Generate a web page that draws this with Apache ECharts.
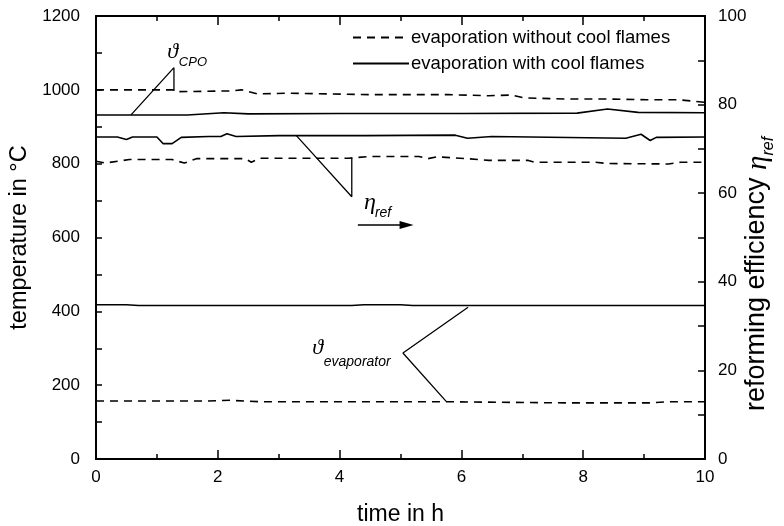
<!DOCTYPE html>
<html>
<head>
<meta charset="utf-8">
<script src="https://cdn.jsdelivr.net/npm/echarts@6/dist/echarts.min.js"></script>
<style>html,body{margin:0;padding:0;background:#fff}#c{width:784px;height:526px}</style>
</head>
<body>
<div id="c"></div>
<script>
// ---- data (time in h, temperature in °C, efficiency in %) ----
const xTicks = [0, 2, 4, 6, 8, 10];
const legendNames = ['evaporation without cool flames', 'evaporation with cool flames'];

const tCpoWithout = [0, 1.27, 1.31, 2.22, 2.39, 2.65, 3.17, 3.82, 4.48, 5.78, 6.44, 6.83, 7.03, 7.75, 8.4, 9.05, 9.58, 10];
const cpoWithout  = [1000, 1000, 995, 997, 1000, 989, 991, 989, 987, 987, 984, 986, 978, 975, 975, 973, 973, 966];

const tCpoWith = [0, 1.5, 2.1, 2.5, 4, 6, 7.9, 8.4, 8.9, 10];
const cpoWith  = [932, 932, 938, 935, 936, 936, 937, 948, 939, 938];

const tEtaWith = [0, 0.35, 0.5, 0.6, 1.0, 1.1, 1.25, 1.4, 1.85, 2.05, 2.15, 2.3, 3, 4.4, 5.9, 6.1, 6.5, 8.7, 8.95, 9.1, 9.2, 10];
const etaWith  = [72.7, 72.7, 72.1, 72.7, 72.7, 71.2, 71.2, 72.6, 72.8, 72.8, 73.4, 72.8, 73.0, 73.0, 73.1, 72.4, 72.8, 72.4, 73.3, 71.9, 72.6, 72.7];

const tEtaWithout = [0, 0.15, 0.55, 1.25, 1.45, 1.65, 2.45, 2.55, 2.7, 4.15, 4.5, 5.3, 5.45, 5.6, 6.1, 6.45, 7.1, 7.2, 8.2, 8.4, 9.4, 9.6, 10];
const etaWithout  = [67.2, 66.8, 67.6, 67.6, 66.8, 67.8, 67.8, 67.0, 67.9, 67.9, 68.3, 68.3, 67.8, 68.2, 67.8, 67.4, 67.4, 67.0, 67.0, 66.7, 66.6, 67.0, 67.0];

const tEvapWith = [0, 0.5, 0.7, 4.2, 4.4, 5.0, 5.2, 10];
const evapWith  = [418, 418, 416, 416, 418, 418, 416, 416];

const tEvapWithout = [0, 1.8, 2.2, 2.7, 5.8, 7.7, 9.1, 9.4, 10];
const evapWithout  = [157, 157, 159, 155, 155, 152, 152, 155, 155];

// ---- annotation geometry (data coordinates) ----
const cpoLeader  = [[1.28, 997], [1.28, 1060], [0.575, 932]];
const etaLeader  = [[4.2, 67.9], [4.2, 59.2], [3.29, 73.0]];   // right axis (%)
const evapLeader = [[6.11, 411], [5.04, 287], [5.75, 156]];
const etaArrow   = [[4.3, 634], [5.1, 634]];

const pairs = (t, v) => t.map((x, i) => [x, v[i]]);
const FONT = "'Liberation Sans', Arial, sans-serif";
const SERIF = "'Liberation Serif', 'DejaVu Serif', serif";
const dashed = { color: '#000', width: 1.6, type: [8, 6] };
const solid  = { color: '#000', width: 1.6, type: 'solid' };

function dataSeries(name, data, ls, yIdx) {
  return { name, type: 'line', data, yAxisIndex: yIdx, symbol: 'none', showSymbol: false,
    lineStyle: ls, itemStyle: { color: '#000' }, animation: false, z: 3 };
}
function leader(data, yIdx, extra) {
  return Object.assign({ type: 'line', data, yAxisIndex: yIdx, symbol: 'none', silent: true,
    lineStyle: { color: '#000', width: 1.3 }, animation: false, z: 4 }, extra || {});
}

const axisLine = { show: true, onZero: false, lineStyle: { color: '#000', width: 2 } };
const plainNum = v => String(v);

const chart = echarts.init(document.getElementById('c'), null, { renderer: 'canvas' });
const option = {
  backgroundColor: '#fff',
  animation: false,
  grid: { left: 96, right: 79, top: 16, bottom: 67, containLabel: false, outerBoundsMode: 'none' },
  legend: {
    data: legendNames, orient: 'vertical', left: 347, top: 23, itemWidth: 56, itemHeight: 16,
    itemGap: 7, selectedMode: false,
    itemStyle: { color: 'rgba(0,0,0,0)', borderWidth: 0, opacity: 0 },
    textStyle: { fontFamily: FONT, fontSize: 18.5, color: '#000', padding: [0, 0, 0, -3] }
  },
  xAxis: [
    { type: 'value', min: 0, max: 10, interval: 2, position: 'bottom',
      axisLine, splitLine: { show: false },
      axisTick: { show: true, inside: true, length: 9, lineStyle: { color: '#000', width: 1.5 } },
      minorTick: { show: true, splitNumber: 2, length: 5, lineStyle: { color: '#000', width: 1.5 } },
      axisLabel: { fontFamily: FONT, fontSize: 17, color: '#000', margin: 10, formatter: plainNum },
      name: 'time in h', nameLocation: 'middle', nameGap: 44,
      nameTextStyle: { fontFamily: FONT, fontSize: 23, color: '#000' } },
    { type: 'value', min: 0, max: 10, interval: 2, position: 'top',
      axisLine, splitLine: { show: false },
      axisTick: { show: true, inside: true, length: 9, lineStyle: { color: '#000', width: 1.5 } },
      minorTick: { show: true, splitNumber: 2, length: 5, lineStyle: { color: '#000', width: 1.5 } },
      axisLabel: { show: false } }
  ],
  yAxis: [
    { type: 'value', min: 0, max: 1200, interval: 200, position: 'left',
      axisLine, splitLine: { show: false },
      axisTick: { show: true, inside: true, length: 6, lineStyle: { color: '#000', width: 1.5 } },
      minorTick: { show: true, splitNumber: 2, length: 6, lineStyle: { color: '#000', width: 1.5 } },
      axisLabel: { fontFamily: FONT, fontSize: 17, color: '#000', margin: 16, formatter: plainNum },
      name: 'temperature in °C', nameLocation: 'middle', nameGap: 49,
      nameTextStyle: { fontFamily: FONT, fontSize: 23.5, color: '#000' } },
    { type: 'value', min: 0, max: 100, interval: 20, position: 'right',
      axisLine, splitLine: { show: false },
      axisTick: { show: true, inside: true, length: 7, lineStyle: { color: '#000', width: 1.5 } },
      minorTick: { show: true, splitNumber: 2, length: 7, lineStyle: { color: '#000', width: 1.5 } },
      axisLabel: { fontFamily: FONT, fontSize: 17, color: '#000', margin: 13, formatter: plainNum } }
  ],
  series: [
    dataSeries(legendNames[0], pairs(tCpoWithout, cpoWithout), dashed, 0),
    dataSeries(legendNames[1], pairs(tCpoWith, cpoWith), solid, 0),
    dataSeries(legendNames[1], pairs(tEtaWith, etaWith), solid, 1),
    dataSeries(legendNames[0], pairs(tEtaWithout, etaWithout), dashed, 1),
    dataSeries(legendNames[1], pairs(tEvapWith, evapWith), solid, 0),
    dataSeries(legendNames[0], pairs(tEvapWithout, evapWithout), dashed, 0),
    leader(cpoLeader, 0),
    leader(etaLeader, 1),
    leader(evapLeader, 0, {
      markLine: { silent: true, symbol: ['none', 'triangle'], symbolSize: [8, 14], label: { show: false },
        lineStyle: { color: '#000', width: 1.5, type: 'solid' }, animation: false,
        data: [[{ coord: etaArrow[0] }, { coord: etaArrow[1] }]] }
    })
  ]
};
chart.setOption(option);

// text annotations anchored in data coordinates
function px(x, y, yIdx) { return chart.convertToPixel({ xAxisIndex: 0, yAxisIndex: yIdx || 0 }, [x, y]); }
function txt(p, text, font, size, italic) {
  return { type: 'text', x: p[0], y: p[1], silent: true, z: 10,
    style: { text, fill: '#000', font: (italic ? 'italic ' : '') + size + 'px ' + font, textAlign: 'left', textVerticalAlign: 'middle' } };
}
const rightTitle = {
  type: 'text', x: 757, y: 274, rotation: Math.PI / 2, silent: true, z: 10,
  style: {
    text: 'reforming efficiency {eta|η}{sub|ref}', fill: '#000',
    fontFamily: FONT, fontSize: 27, align: 'center', verticalAlign: 'middle',
    rich: {
      eta: { fontFamily: SERIF, fontStyle: 'italic', fontSize: 29, fill: '#000', verticalAlign: 'bottom', lineHeight: 31 },
      sub: { fontFamily: FONT, fontStyle: 'italic', fontSize: 16, fill: '#000', verticalAlign: 'bottom', lineHeight: 16, padding: [0, 0, -4, 0] }
    }
  }
};
chart.setOption({ graphic: [
  txt(px(1.17, 1102), 'ϑ', SERIF, 22, true),
  txt(px(1.36, 1074), 'CPO', FONT, 13, true),
  txt(px(4.4, 693), 'η', SERIF, 24, true),
  txt(px(4.58, 667), 'ref', FONT, 14, true),
  txt(px(3.55, 300), 'ϑ', SERIF, 22, true),
  txt(px(3.74, 262), 'evaporator', FONT, 14, true),
  rightTitle
] });
</script>
</body>
</html>
